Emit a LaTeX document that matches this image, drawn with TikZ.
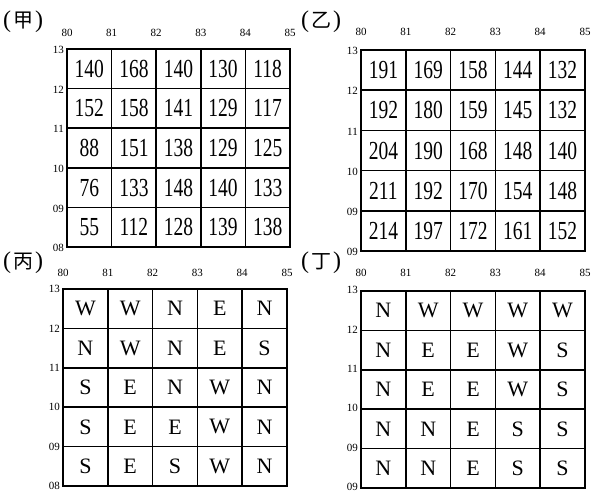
\documentclass[tikz,border=0pt]{standalone}
\usepackage{fontspec}
\setmainfont{Liberation Serif}
\newfontfamily\cellfont[FakeStretch=0.75]{Liberation Serif}
\newfontfamily\cjk{Noto Sans CJK TC}
\usetikzlibrary{positioning}

\begin{document}
\begin{tikzpicture}[x=1pt,y=-1pt,
  cell/.style={draw,line width=1.5pt,minimum width=44.8pt,minimum height=39.6pt,inner sep=0pt},
  numcell/.style={font=\cellfont\fontsize{26}{26}\selectfont},
  dircell/.style={font=\fontsize{22}{22}\selectfont},
  tick/.style={inner sep=0pt,font=\fontsize{11}{11}\selectfont},
  title/.style={anchor=west,inner sep=0pt,font=\fontsize{24}{24}\selectfont}]

  \useasboundingbox (0,0) rectangle (599,493);

  % (jia)
  \node[title] (jia) at (3,22) {(\hspace{2pt}{\cjk\fontsize{20}{20}\selectfont 甲}\hspace{2pt})};
  \begin{scope}[shift={(67,49)}]
    \foreach \row [count=\r] in {{140,168,140,130,118},{152,158,141,129,117},{88,151,138,129,125},{76,133,148,140,133},{55,112,128,139,138}}
      \foreach \v [count=\c] in \row
        \node[cell,numcell] (jia-\r-\c) at (44.6*\c-22.3,39.6*\r-19.8) {\v};
    \foreach \lab [count=\i from 0] in {80,...,85}
      \node[tick] (jia-x\lab) at (44.6*\i,-16) {\lab};
    \foreach \lab [count=\i from 0] in {13,12,11,10,09,08}
      \node[tick,anchor=east] (jia-y\i) at (-3,39.6*\i+1) {\lab};
  \end{scope}

  % (yi)
  \node[title] (yi) at (301,22) {(\hspace{2pt}{\cjk\fontsize{20}{20}\selectfont 乙}\hspace{2pt})};
  \begin{scope}[shift={(361,50)}]
    \foreach \row [count=\r] in {{191,169,158,144,132},{192,180,159,145,132},{204,190,168,148,140},{211,192,170,154,148},{214,197,172,161,152}}
      \foreach \v [count=\c] in \row
        \node[cell,numcell,minimum height=40.2pt] (yi-\r-\c) at (44.8*\c-22.4,40.2*\r-20.1) {\v};
    \foreach \lab [count=\i from 0] in {80,...,85}
      \node[tick] (yi-x\lab) at (44.8*\i,-18) {\lab};
    \foreach \lab [count=\i from 0] in {13,12,11,10,09,09}
      \node[tick,anchor=east] (yi-y\i) at (-3,40.2*\i+1) {\lab};
  \end{scope}

  % (bing)
  \node[title] (bing) at (3,263) {(\hspace{2pt}{\cjk\fontsize{20}{20}\selectfont 丙}\hspace{2pt})};
  \begin{scope}[shift={(63,289)}]
    \foreach \row [count=\r] in {{W,W,N,E,N},{N,W,N,E,S},{S,E,N,W,N},{S,E,E,W,N},{S,E,S,W,N}}
      \foreach \v [count=\c] in \row
        \node[cell,dircell,minimum height=39.4pt] (bing-\r-\c) at (44.8*\c-22.4,39.4*\r-19.7) {\v};
    \foreach \lab [count=\i from 0] in {80,...,85}
      \node[tick] (bing-x\lab) at (44.8*\i,-16) {\lab};
    \foreach \lab [count=\i from 0] in {13,12,11,10,09,08}
      \node[tick,anchor=east] (bing-y\i) at (-3,39.4*\i) {\lab};
  \end{scope}

  % (ding)
  \node[title] (ding) at (301,263) {(\hspace{2pt}{\cjk\fontsize{20}{20}\selectfont 丁}\hspace{2pt})};
  \begin{scope}[shift={(361,291)}]
    \foreach \row [count=\r] in {{N,W,W,W,W},{N,E,E,W,S},{N,E,E,W,S},{N,N,E,S,S},{N,N,E,S,S}}
      \foreach \v [count=\c] in \row
        \node[cell,dircell,minimum height=39.4pt] (ding-\r-\c) at (44.8*\c-22.4,39.4*\r-19.7) {\v};
    \foreach \lab [count=\i from 0] in {80,...,85}
      \node[tick] (ding-x\lab) at (44.8*\i,-18) {\lab};
    \foreach \lab [count=\i from 0] in {13,12,11,10,09,09}
      \node[tick,anchor=east] (ding-y\i) at (-3,39.4*\i-1) {\lab};
  \end{scope}
\end{tikzpicture}
\end{document}
